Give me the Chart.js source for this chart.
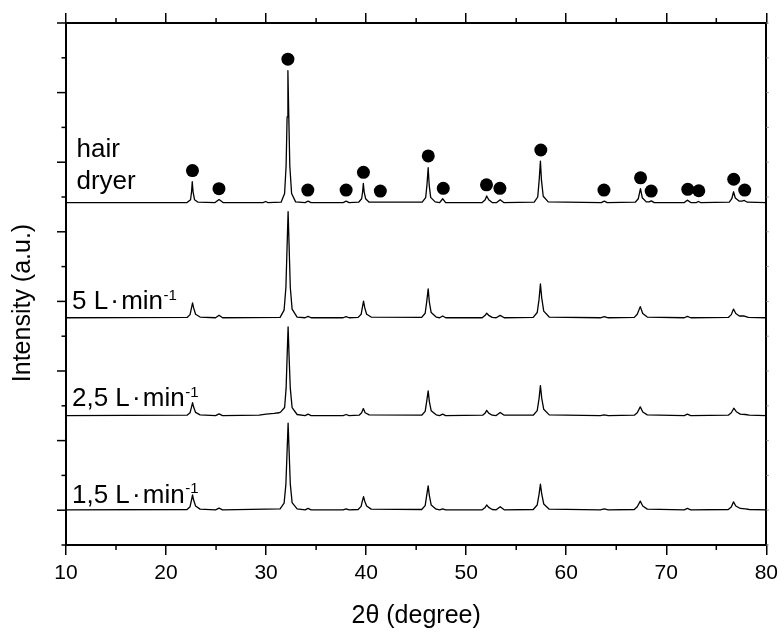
<!DOCTYPE html>
<html>
<head>
<meta charset="utf-8">
<script src="https://cdn.jsdelivr.net/npm/chart.js@4.4.1/dist/chart.umd.min.js"></script>
<style>
  html, body { margin: 0; padding: 0; background: #fff; }
  #wrap { width: 784px; height: 633px; }
</style>
</head>
<body>
<div id="wrap"><canvas id="c" width="784" height="633"></canvas></div>
<script>
// ---------- DATA ----------
const xTicks = [10, 20, 30, 40, 50, 60, 70, 80];
const xMinorTicks = [15, 25, 35, 45, 55, 65, 75];
const yTicks = [0, 1, 2, 3, 4, 5, 6, 7, 8, 9, 10, 11, 12, 13, 14, 15];

const seriesNames = ['hair dryer', '5 L·min-1', '2,5 L·min-1', '1,5 L·min-1'];

const hairDryer = [
  [10, 9.84], [22.1, 9.84], [22.45, 9.92], [22.55, 10.15], [22.62, 10.44], [22.7, 10.15], [22.85, 9.92], [23.2, 9.85],
  [24.9, 9.84], [25.3, 9.93], [25.7, 9.84], [29.7, 9.84], [29.95, 9.87], [30.2, 9.84],
  [31.5, 9.85], [31.85, 10.1], [32.0, 10.9], [32.1, 12.3], [32.18, 13.63], [32.27, 12.3], [32.37, 10.9], [32.55, 10.1], [32.95, 9.86],
  [33.9, 9.84], [34.2, 9.88], [34.5, 9.84], [37.7, 9.84], [38.0, 9.88], [38.3, 9.84],
  [39.25, 9.85], [39.55, 9.95], [39.65, 10.15], [39.72, 10.39], [39.8, 10.15], [39.95, 9.95], [40.3, 9.85],
  [45.6, 9.85], [45.95, 9.98], [46.08, 10.35], [46.2, 10.84], [46.3, 10.35], [46.45, 9.99], [46.9, 9.86],
  [47.35, 9.84], [47.65, 9.95], [47.95, 9.84],
  [51.6, 9.84], [51.9, 9.92], [52.05, 10.03], [52.25, 9.92], [52.6, 9.84],
  [53.05, 9.84], [53.4, 9.92], [53.75, 9.84],
  [56.8, 9.85], [57.15, 10.0], [57.3, 10.5], [57.42, 11.03], [57.52, 10.5], [57.7, 10.02], [58.2, 9.86],
  [63.5, 9.84], [63.8, 9.88], [64.1, 9.84],
  [66.9, 9.85], [67.2, 9.95], [67.42, 10.24], [67.6, 9.98], [68.0, 9.86], [68.3, 9.86], [68.5, 9.89], [68.8, 9.84],
  [71.8, 9.84], [72.1, 9.91], [72.45, 9.84], [73.0, 9.84], [73.2, 9.87], [73.45, 9.84],
  [76.3, 9.85], [76.55, 9.95], [76.72, 10.15], [76.9, 9.97], [77.3, 9.88], [77.55, 9.88], [77.8, 9.9], [78.1, 9.85],
  [80, 9.84]
];

const flow5 = [
  [10, 6.53], [22.1, 6.54], [22.4, 6.62], [22.55, 6.82], [22.65, 6.96], [22.75, 6.82], [22.95, 6.63], [23.4, 6.55],
  [24.95, 6.53], [25.3, 6.6], [25.65, 6.53],
  [31.4, 6.54], [31.8, 6.75], [31.98, 7.4], [32.1, 8.6], [32.2, 9.58], [32.3, 8.6], [32.42, 7.4], [32.6, 6.78], [33.1, 6.55],
  [33.9, 6.53], [34.2, 6.57], [34.5, 6.53], [37.7, 6.53], [38.0, 6.56], [38.3, 6.53],
  [39.2, 6.54], [39.5, 6.63], [39.62, 6.82], [39.74, 7.01], [39.86, 6.82], [40.05, 6.63], [40.5, 6.55],
  [45.55, 6.54], [45.9, 6.66], [46.05, 6.98], [46.2, 7.36], [46.32, 6.98], [46.5, 6.68], [47.0, 6.55],
  [47.35, 6.53], [47.65, 6.58], [47.95, 6.53],
  [51.6, 6.53], [51.9, 6.6], [52.05, 6.66], [52.25, 6.6], [52.6, 6.54],
  [53.0, 6.53], [53.4, 6.6], [53.8, 6.53],
  [56.7, 6.54], [57.1, 6.68], [57.28, 7.05], [57.42, 7.5], [57.55, 7.1], [57.75, 6.72], [58.3, 6.55],
  [63.4, 6.53], [63.8, 6.56], [64.2, 6.53],
  [66.8, 6.54], [67.1, 6.63], [67.4, 6.85], [67.65, 6.65], [68.1, 6.55],
  [71.8, 6.53], [72.1, 6.57], [72.45, 6.53],
  [76.2, 6.54], [76.5, 6.62], [76.72, 6.78], [76.95, 6.65], [77.3, 6.58], [77.8, 6.58], [78.2, 6.54],
  [80, 6.53]
];

const flow25 = [
  [10, 3.72], [22.1, 3.73], [22.4, 3.8], [22.55, 3.97], [22.65, 4.09], [22.75, 3.97], [22.95, 3.81], [23.4, 3.74],
  [24.95, 3.72], [25.3, 3.77], [25.65, 3.72],
  [29.3, 3.73], [30.0, 3.76], [30.8, 3.78], [31.3, 3.8],
  [31.45, 3.82], [31.85, 3.95], [32.0, 4.5], [32.1, 5.4], [32.2, 6.27], [32.3, 5.4], [32.42, 4.5], [32.6, 3.95], [33.1, 3.75],
  [33.9, 3.72], [34.2, 3.76], [34.5, 3.72], [37.7, 3.72], [38.0, 3.75], [38.3, 3.72],
  [39.3, 3.73], [39.55, 3.8], [39.72, 3.92], [39.9, 3.8], [40.3, 3.74],
  [45.55, 3.73], [45.9, 3.84], [46.05, 4.12], [46.2, 4.43], [46.32, 4.12], [46.5, 3.86], [47.0, 3.74],
  [47.35, 3.72], [47.65, 3.76], [47.95, 3.72],
  [51.65, 3.73], [51.9, 3.79], [52.05, 3.87], [52.25, 3.79], [52.6, 3.73],
  [53.0, 3.72], [53.4, 3.81], [53.8, 3.73],
  [56.7, 3.73], [57.1, 3.86], [57.28, 4.2], [57.42, 4.58], [57.55, 4.22], [57.75, 3.9], [58.3, 3.74],
  [63.4, 3.72], [63.8, 3.74], [64.2, 3.72],
  [66.8, 3.73], [67.1, 3.8], [67.4, 3.97], [67.65, 3.82], [68.1, 3.74],
  [71.8, 3.72], [72.1, 3.76], [72.45, 3.72],
  [76.2, 3.73], [76.5, 3.8], [76.75, 3.93], [77.0, 3.83], [77.4, 3.76], [77.9, 3.75], [78.3, 3.73],
  [80, 3.72]
];

const flow15 = [
  [10, 1.01], [22.1, 1.02], [22.4, 1.1], [22.55, 1.3], [22.65, 1.44], [22.75, 1.3], [22.95, 1.12], [23.4, 1.03],
  [24.95, 1.01], [25.3, 1.06], [25.65, 1.01],
  [31.4, 1.04], [31.8, 1.2], [31.98, 1.75], [32.1, 2.7], [32.2, 3.5], [32.3, 2.7], [32.42, 1.75], [32.6, 1.22], [33.1, 1.04],
  [33.9, 1.01], [34.2, 1.05], [34.5, 1.01], [37.7, 1.01], [38.0, 1.04], [38.3, 1.01],
  [39.2, 1.02], [39.5, 1.11], [39.62, 1.26], [39.74, 1.39], [39.86, 1.26], [40.05, 1.12], [40.5, 1.03],
  [45.55, 1.02], [45.9, 1.13], [46.05, 1.42], [46.2, 1.7], [46.32, 1.42], [46.5, 1.15], [47.0, 1.03],
  [47.35, 1.01], [47.65, 1.04], [47.95, 1.01],
  [51.6, 1.01], [51.9, 1.08], [52.05, 1.15], [52.25, 1.08], [52.6, 1.02],
  [53.0, 1.01], [53.4, 1.1], [53.8, 1.01],
  [56.7, 1.02], [57.1, 1.15], [57.28, 1.45], [57.42, 1.75], [57.55, 1.47], [57.75, 1.18], [58.3, 1.03],
  [63.4, 1.01], [63.8, 1.04], [64.2, 1.01],
  [66.8, 1.02], [67.1, 1.1], [67.4, 1.26], [67.65, 1.12], [68.1, 1.03],
  [71.8, 1.01], [72.1, 1.05], [72.45, 1.01],
  [76.2, 1.02], [76.5, 1.09], [76.72, 1.24], [76.95, 1.12], [77.4, 1.05], [77.9, 1.04], [78.3, 1.02],
  [80, 1.01]
];

// phase markers (filled circles) above the hair dryer pattern
const markerX = [22.64, 25.29, 32.18, 34.17, 38.0, 39.73, 41.42, 46.21, 47.71, 52.03, 53.37, 57.46, 63.77, 67.43, 68.49, 72.15, 73.25, 76.74, 77.84];
const markerY = [10.76, 10.24, 13.96, 10.20, 10.20, 10.71, 10.17, 11.18, 10.25, 10.35, 10.25, 11.35, 10.20, 10.55, 10.17, 10.22, 10.18, 10.51, 10.20];

// in-plot labels: text, superscript, anchor in data units (x, baseline y)
const labelText = ['hair', 'dryer', '5 L\u200A\u00B7\u200Amin', '2,5 L\u200A\u00B7\u200Amin', '1,5 L\u200A\u00B7\u200Amin'];
const labelSup  = ['', '', '-1', '-1', '-1'];
const labelX    = [11.05, 11.05, 10.6, 10.6, 10.6];
const labelY    = [11.14, 10.22, 6.78, 3.99, 1.22];

const xTitle = '2\u03B8 (degree)';
const yTitle = 'Intensity (a.u.)';

// ---------- CHART ----------
const FONT = "'Liberation Sans', Arial, Helvetica, sans-serif";
Chart.defaults.font.family = FONT;
Chart.defaults.color = '#000';

const toXY = arr => arr.map(p => ({ x: p[0], y: p[1] }));
const lineDs = (label, arr) => ({
  label, data: toXY(arr), borderColor: '#000', borderWidth: 1.3,
  pointRadius: 0, fill: false, tension: 0, borderJoinStyle: 'round'
});

const decor = {
  id: 'decor',
  afterDraw(chart) {
    const ctx = chart.ctx;
    const xs = chart.scales.x, ys = chart.scales.y;
    const { left, right, top, bottom } = chart.chartArea;
    ctx.save();
    ctx.strokeStyle = '#000';
    ctx.lineWidth = 1.5;
    const seg = (x1, y1, x2, y2) => { ctx.beginPath(); ctx.moveTo(x1, y1); ctx.lineTo(x2, y2); ctx.stroke(); };
    xMinorTicks.forEach(v => {
      const px = xs.getPixelForValue(v);
      seg(px, bottom, px, bottom + 5);
      seg(px, top, px, top - 5);
    });
    yTicks.forEach(v => {
      const py = ys.getPixelForValue(v);
      const len = (v % 2 === 1) ? 9 : 4.5;
      seg(left - len, py, left, py);
    });
    ctx.strokeStyle = '#999';
    ctx.lineWidth = 1;
    yTicks.forEach(v => {
      const py = ys.getPixelForValue(v);
      seg(right, py, right + 2.5, py);
    });
    // y title
    ctx.fillStyle = '#000';
    ctx.font = '25px ' + FONT;
    ctx.textAlign = 'center';
    ctx.textBaseline = 'alphabetic';
    ctx.save();
    ctx.translate(30, (top + bottom) / 2 + 19);
    ctx.rotate(-Math.PI / 2);
    ctx.fillText(yTitle, 0, 0);
    ctx.restore();
    // in-plot labels
    ctx.textAlign = 'left';
    for (let i = 0; i < labelText.length; i++) {
      const px = xs.getPixelForValue(labelX[i]);
      const py = ys.getPixelForValue(labelY[i]);
      ctx.font = '26px ' + FONT;
      ctx.fillText(labelText[i], px, py);
      if (labelSup[i]) {
        const w = ctx.measureText(labelText[i]).width;
        ctx.font = '15px ' + FONT;
        ctx.fillText(labelSup[i], px + w + 0.5, py - 9.5);
      }
    }
    ctx.restore();
  }
};

new Chart(document.getElementById('c'), {
  type: 'line',
  data: {
    datasets: [
      lineDs(seriesNames[0], hairDryer),
      lineDs(seriesNames[1], flow5),
      lineDs(seriesNames[2], flow25),
      lineDs(seriesNames[3], flow15),
      {
        label: 'phase',
        data: markerX.map((x, i) => ({ x, y: markerY[i] })),
        showLine: false, pointRadius: 6.5, pointHoverRadius: 6.5,
        pointBackgroundColor: '#000', pointBorderColor: '#000', pointBorderWidth: 0
      }
    ]
  },
  options: {
    responsive: false,
    animation: false,
    devicePixelRatio: 1,
    layout: { padding: 0 },
    plugins: { legend: { display: false }, tooltip: { enabled: false } },
    scales: {
      x: {
        type: 'linear', position: 'bottom', min: 10, max: 80,
        afterBuildTicks: s => { s.ticks = xTicks.map(v => ({ value: v })); },
        ticks: { font: { size: 21 }, color: '#000', padding: 6, maxRotation: 0, autoSkip: false },
        grid: { drawOnChartArea: false, drawTicks: true, tickLength: 10, color: '#000', lineWidth: 1.5 },
        border: { display: true, color: '#000', width: 2 },
        title: { display: true, text: xTitle, font: { size: 25 }, color: '#000', padding: { top: 0, bottom: 2 } },
        afterFit: s => { s.height = 88; }
      },
      xTop: {
        type: 'linear', position: 'top', min: 10, max: 80,
        afterBuildTicks: s => { s.ticks = xTicks.map(v => ({ value: v })); },
        ticks: { display: false },
        grid: { drawOnChartArea: false, drawTicks: true, tickLength: 10, color: '#000', lineWidth: 1.5 },
        border: { display: true, color: '#000', width: 2 },
        afterFit: s => { s.height = 23; }
      },
      y: {
        type: 'linear', position: 'left', min: 0, max: 15,
        ticks: { display: false },
        grid: { display: false },
        border: { display: true, color: '#000', width: 2 },
        afterFit: s => { s.width = 66; }
      },
      yRight: {
        type: 'linear', position: 'right', min: 0, max: 15,
        ticks: { display: false },
        grid: { display: false },
        border: { display: true, color: '#000', width: 2 },
        afterFit: s => { s.width = 17; }
      }
    }
  },
  plugins: [decor]
});
</script>
</body>
</html>
